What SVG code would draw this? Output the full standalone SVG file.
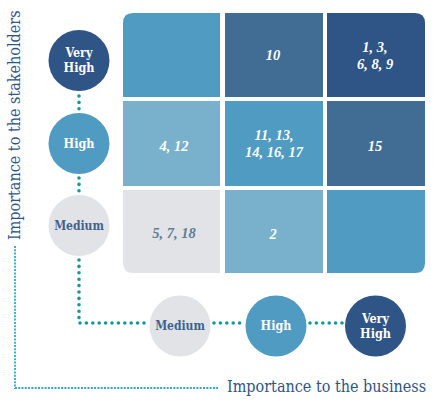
<svg xmlns="http://www.w3.org/2000/svg" width="435" height="402" viewBox="0 0 435 402">
<style>
.cell{stroke:none}
.num{font-family:"Liberation Serif",serif;font-style:italic;font-weight:bold;font-size:14.5px;fill:#ffffff;text-anchor:middle}
.lvl{font-family:"DejaVu Serif Condensed","DejaVu Serif",serif;font-weight:bold;font-size:12.5px;fill:#ffffff;text-anchor:middle}
.med{fill:#3d6290;font-weight:600;font-size:12px}
.axis{font-family:"DejaVu Serif Condensed","DejaVu Serif",serif;font-size:16px;fill:#2f5486}
.dots{fill:none;stroke:#11999e;stroke-width:3.6;stroke-linecap:round;stroke-dasharray:0 6.4}
.axline{fill:none;stroke:#2fa8cc;stroke-width:1.8;stroke-dasharray:2 1.3}
</style>
<rect width="435" height="402" fill="#ffffff"/>
<g id="cells">
<path id="c00" class="cell" d="M123 23 Q123 13 133 13 H220 V97 H123 Z" fill="#4f9bc2"/>
<rect id="c10" class="cell" x="225" y="13" width="98" height="84" fill="#416d94"/>
<path id="c20" class="cell" d="M327 13 H415 Q425 13 425 23 V97 H327 Z" fill="#2f5486"/>
<rect id="c01" class="cell" x="123" y="101" width="97" height="85" fill="#79b0cb"/>
<rect id="c11" class="cell" x="225" y="101" width="98" height="85" fill="#4f9bc2"/>
<rect id="c21" class="cell" x="327" y="101" width="98" height="85" fill="#416d94"/>
<path id="c02" class="cell" d="M123 190 H220 V273 H133 Q123 273 123 263 Z" fill="#e1e3e6"/>
<rect id="c12" class="cell" x="225" y="190" width="98" height="83" fill="#79b0cb"/>
<path id="c22" class="cell" d="M327 190 H425 V263 Q425 273 415 273 H327 Z" fill="#4f9bc2"/>
</g>
<g id="labels">
<text class="num" x="273" y="60">10</text>
<text class="num" x="375" y="52">1, 3,</text>
<text class="num" x="375" y="69">6, 8, 9</text>
<text class="num" x="174" y="151">4, 12</text>
<text class="num" x="274" y="140">11, 13,</text>
<text class="num" x="274" y="157">14, 16, 17</text>
<text class="num" x="375" y="151">15</text>
<text class="num" x="174" y="238" style="fill:#5d7d93">5, 7, 18</text>
<text class="num" x="273" y="239">2</text>
</g>
<g id="connectors">
<path class="dots" d="M79 96 V110"/>
<path class="dots" d="M79 178 V192"/>
<path class="dots" d="M79 260 V323 H146"/>
<path class="dots" d="M214 323 H243"/>
<path class="dots" d="M310 323 H343"/>
<path class="axline" d="M15 246 V388 H218"/>
</g>
<g id="y-very-high">
<circle cx="79" cy="60.5" r="30.5" fill="#2f5486"/>
<text class="lvl" x="79" y="57">Very</text>
<text class="lvl" x="79" y="72">High</text>
</g>
<g id="y-high">
<circle cx="79" cy="143.5" r="30.5" fill="#4f9bc2"/>
<text class="lvl" x="79" y="147.5">High</text>
</g>
<g id="y-medium">
<circle cx="79" cy="225.5" r="30.5" fill="#e1e3e6"/>
<text class="lvl med" x="79" y="229.5">Medium</text>
</g>
<g id="x-medium">
<circle cx="180" cy="326" r="30.5" fill="#e1e3e6"/>
<text class="lvl med" x="180" y="330">Medium</text>
</g>
<g id="x-high">
<circle cx="276" cy="326" r="30.5" fill="#4f9bc2"/>
<text class="lvl" x="276" y="330">High</text>
</g>
<g id="x-very-high">
<circle cx="375.5" cy="326" r="30.5" fill="#2f5486"/>
<text class="lvl" x="375.5" y="322.5">Very</text>
<text class="lvl" x="375.5" y="337.5">High</text>
</g>
<g id="axis-labels">
<text class="axis" transform="translate(19.5 240) rotate(-90)" x="0" y="0">Importance to the stakeholders</text>
<text class="axis" x="227" y="392">Importance to the business</text>
</g>
</svg>
